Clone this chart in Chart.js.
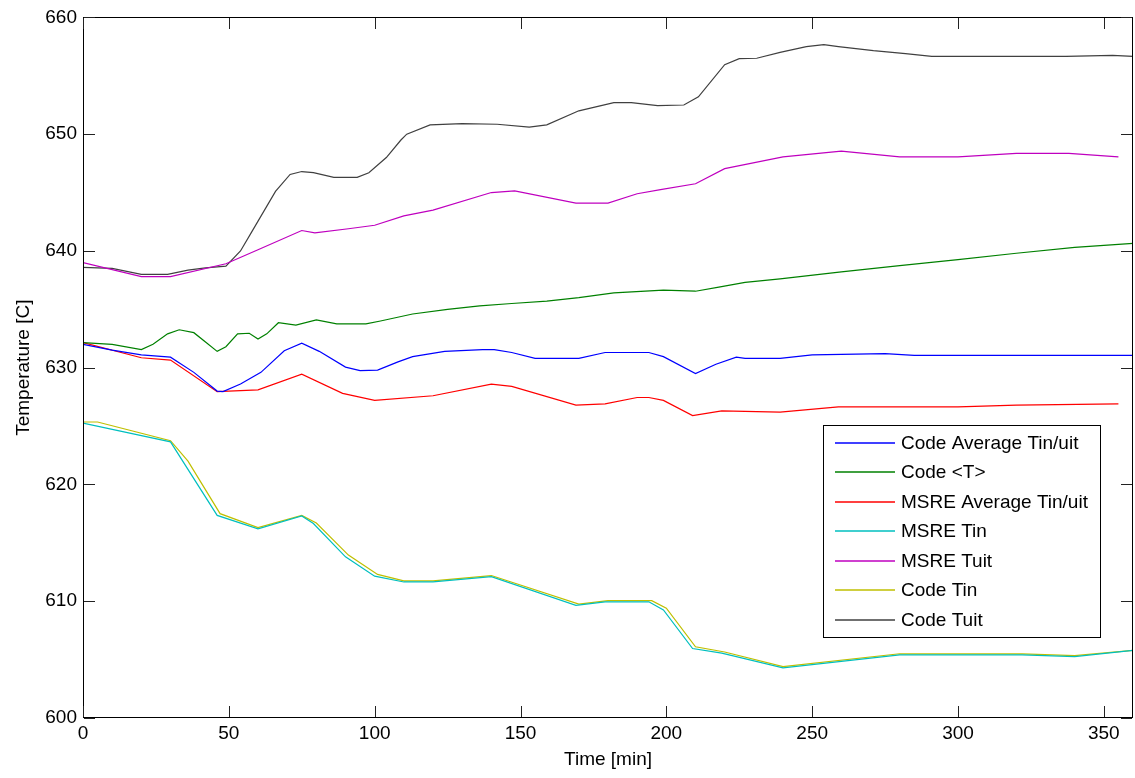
<!DOCTYPE html>
<html>
<head>
<meta charset="utf-8">
<script src="https://cdn.jsdelivr.net/npm/chart.js@4.4.1/dist/chart.umd.min.js"></script>
<style>
  html, body { margin: 0; padding: 0; background: #ffffff; }
  #wrap { width: 1135px; height: 778px; }
</style>
</head>
<body>
<div id="wrap"><canvas id="c" width="1135" height="778"></canvas></div>
<script>
// Time axis [min] and temperatures [C] for each series
const codeAvgTime  = [0, 10, 20, 30, 38, 46, 48, 54, 61, 69, 75, 81, 90, 95, 101, 108, 113, 124, 137, 141, 147, 155, 170, 179, 194, 199, 210, 217, 224, 227, 239, 250, 275, 285, 360];
const codeAvgTemp  = [632.0, 631.5, 631.1, 630.9, 629.6, 628.0, 627.95, 628.6, 629.6, 631.45, 632.1, 631.4, 630.05, 629.75, 629.8, 630.5, 630.95, 631.4, 631.55, 631.55, 631.3, 630.8, 630.8, 631.3, 631.3, 630.95, 629.5, 630.3, 630.9, 630.8, 630.8, 631.1, 631.2, 631.05, 631.05];

const codeMeanTime = [0, 10, 20, 24, 29, 33, 38, 42, 46, 49, 53, 57, 60, 63, 67, 73, 80, 87, 97, 102, 113, 125, 136, 147, 159, 170, 182, 199, 210, 218, 227, 239, 260, 280, 300, 320, 340, 360];
const codeMeanTemp = [632.15, 632.0, 631.55, 632.0, 632.9, 633.25, 633.0, 632.2, 631.4, 631.8, 632.9, 632.95, 632.45, 632.9, 633.85, 633.65, 634.1, 633.75, 633.75, 634.0, 634.6, 635.0, 635.3, 635.5, 635.7, 636.0, 636.4, 636.65, 636.55, 636.9, 637.3, 637.6, 638.2, 638.75, 639.25, 639.8, 640.3, 640.65];

const msreAvgTime  = [0, 20, 30, 46, 60, 75, 89, 100, 120, 140, 147, 169, 179, 190, 194, 199, 209, 219, 239, 259, 300, 320, 355];
const msreAvgTemp  = [632.15, 630.85, 630.65, 627.95, 628.1, 629.45, 627.8, 627.2, 627.6, 628.6, 628.4, 626.8, 626.9, 627.45, 627.45, 627.2, 625.9, 626.3, 626.2, 626.65, 626.65, 626.8, 626.9];

const msreInTime   = [0, 30, 46, 60, 75, 79, 90, 100, 110, 120, 140, 169, 179, 194, 199, 209, 219, 240, 280, 322, 340, 360];
const msreInTemp   = [625.25, 623.65, 617.35, 616.2, 617.3, 616.65, 613.8, 612.15, 611.65, 611.65, 612.1, 609.65, 609.95, 609.95, 609.25, 605.95, 605.55, 604.3, 605.4, 605.4, 605.25, 605.8];

const msreOutTime  = [0, 20, 30, 49, 60, 75, 79.5, 91, 100, 110, 120, 140, 148, 169, 180, 190, 198, 210, 220, 240, 260, 280, 300, 320, 338, 355];
const msreOutTemp  = [639.0, 637.8, 637.8, 638.9, 640.1, 641.75, 641.55, 641.9, 642.2, 643.0, 643.5, 645.0, 645.15, 644.1, 644.1, 644.9, 645.25, 645.75, 647.05, 648.05, 648.55, 648.05, 648.05, 648.35, 648.35, 648.05];

const codeInTime   = [0, 5, 30, 36, 47, 60, 75, 80, 91, 101, 110, 120, 140, 170, 180, 195, 200, 210, 220, 240, 280, 322, 340, 360];
const codeInTemp   = [625.35, 625.35, 623.75, 622.0, 617.5, 616.3, 617.35, 616.7, 613.95, 612.3, 611.75, 611.75, 612.2, 609.75, 610.05, 610.05, 609.4, 606.1, 605.65, 604.4, 605.5, 605.5, 605.35, 605.8];

const codeOutTime  = [0, 10, 20, 29, 36, 42, 49, 54, 58, 66, 71, 75, 79, 86, 94, 98, 104, 109, 111, 119, 130, 142, 153, 159, 170, 182, 188, 197, 206, 211, 220, 225, 231, 239, 248, 254, 259, 271, 282, 291, 337, 353, 360];
const codeOutTemp  = [638.6, 638.5, 638.0, 638.0, 638.35, 638.55, 638.7, 640.0, 641.7, 645.1, 646.55, 646.8, 646.7, 646.3, 646.3, 646.7, 648.0, 649.5, 650.0, 650.8, 650.9, 650.85, 650.6, 650.8, 652.0, 652.7, 652.7, 652.45, 652.5, 653.2, 655.95, 656.47, 656.5, 657.0, 657.5, 657.66, 657.5, 657.15, 656.9, 656.67, 656.67, 656.75, 656.67];

const seriesLabels = ['Code Average Tin/uit', 'Code <T>', 'MSRE Average Tin/uit', 'MSRE Tin', 'MSRE Tuit', 'Code Tin', 'Code Tuit'];
const seriesColors = ['#0000ff', '#008000', '#ff0000', '#00bfbf', '#bf00bf', '#bfbf00', '#404040'];
const seriesTimes  = [codeAvgTime, codeMeanTime, msreAvgTime, msreInTime, msreOutTime, codeInTime, codeOutTime];
const seriesTemps  = [codeAvgTemp, codeMeanTemp, msreAvgTemp, msreInTemp, msreOutTemp, codeInTemp, codeOutTemp];

const xTicks = [0, 50, 100, 150, 200, 250, 300, 350];
const yTicks = [600, 610, 620, 630, 640, 650, 660];

const FONT = 'Liberation Sans, Arial, Helvetica, sans-serif';
const FS = 19;

function pairs(ts, vs) { return ts.map((t, i) => ({ x: t, y: vs[i] })); }

const datasets = seriesLabels.map((label, i) => ({
  label,
  data: pairs(seriesTimes[i], seriesTemps[i]),
  borderColor: seriesColors[i],
  backgroundColor: seriesColors[i],
  borderWidth: 1.2,
  pointRadius: 0,
  tension: 0,
  fill: false
}));

// Box around the axes with inward tick marks on all four sides
const axesBox = {
  id: 'axesBox',
  afterDatasetsDraw(chart) {
    const { ctx, chartArea: a, scales } = chart;
    const L = Math.round(a.left), R = Math.round(a.right) - 1;
    const T = Math.round(a.top), B = Math.round(a.bottom) - 1;
    const len = 11;
    ctx.save();
    ctx.fillStyle = '#000';
    ctx.fillRect(L, T, R - L + 1, 1);
    ctx.fillRect(L, B, R - L + 1, 1);
    ctx.fillRect(L, T, 1, B - T + 1);
    ctx.fillRect(R, T, 1, B - T + 1);
    ctx.fillStyle = '#222';
    xTicks.forEach(v => {
      const px = Math.round(scales.x.getPixelForValue(v));
      ctx.fillRect(px, B - len, 1, len);
      ctx.fillRect(px, T + 1, 1, len);
    });
    yTicks.forEach(v => {
      const py = Math.round(scales.y.getPixelForValue(v));
      ctx.fillRect(L + 1, py, len, 1);
      ctx.fillRect(R - len, py, len, 1);
    });
    ctx.restore();
  }
};

// Legend drawn inside the plot, lower right
const innerLegend = {
  id: 'innerLegend',
  afterDraw(chart) {
    const { ctx, chartArea: a } = chart;
    const w = 277, rowH = 29.5, padTop = 17.7;
    const n = chart.data.datasets.length;
    const h = Math.round(padTop * 2 + rowH * (n - 1));
    const x0 = Math.round(a.right - 33 - w);
    const y0 = Math.round(a.bottom - 81 - h);
    ctx.save();
    ctx.fillStyle = '#fff';
    ctx.fillRect(x0, y0, w, h);
    ctx.fillStyle = '#000';
    ctx.fillRect(x0, y0, w, 1);
    ctx.fillRect(x0, y0 + h, w + 1, 1);
    ctx.fillRect(x0, y0, 1, h);
    ctx.fillRect(x0 + w, y0, 1, h);
    ctx.font = FS + 'px ' + FONT;
    ctx.textBaseline = 'middle';
    ctx.textAlign = 'left';
    chart.data.datasets.forEach((ds, i) => {
      const cy = Math.round(y0 + padTop + i * rowH);
      ctx.strokeStyle = ds.borderColor;
      ctx.lineWidth = 1.3;
      ctx.beginPath();
      ctx.moveTo(x0 + 12, cy);
      ctx.lineTo(x0 + 72, cy);
      ctx.stroke();
      ctx.fillStyle = '#000';
      ctx.fillText(ds.label, x0 + 78, cy + 1);
    });
    ctx.restore();
  }
};

new Chart(document.getElementById('c'), {
  type: 'line',
  data: { datasets },
  plugins: [axesBox, innerLegend],
  options: {
    responsive: false,
    animation: false,
    devicePixelRatio: 1,
    layout: { padding: { top: 16, right: 2, left: 0, bottom: 0 } },
    plugins: { legend: { display: false }, tooltip: { enabled: false } },
    scales: {
      x: {
        type: 'linear',
        min: 0, max: 360,
        afterFit(s) { s.height = 60; },
        afterBuildTicks(s) { s.ticks = xTicks.map(v => ({ value: v })); },
        ticks: { padding: 4, color: '#000', maxRotation: 0, font: { family: FONT, size: FS } },
        grid: { display: false, drawTicks: false },
        border: { display: false },
        title: { display: true, text: 'Time [min]', color: '#000', font: { family: FONT, size: FS }, padding: { top: 0, bottom: 7 } }
      },
      y: {
        type: 'linear',
        min: 600, max: 660,
        afterFit(s) { s.width = 83; },
        afterBuildTicks(s) { s.ticks = yTicks.map(v => ({ value: v })); },
        ticks: { padding: 6, color: '#000', font: { family: FONT, size: FS } },
        grid: { display: false, drawTicks: false },
        border: { display: false },
        title: { display: true, text: 'Temperature [C]', color: '#000', font: { family: FONT, size: FS }, padding: { top: 12, bottom: 0 } }
      }
    }
  }
});
</script>
</body>
</html>
